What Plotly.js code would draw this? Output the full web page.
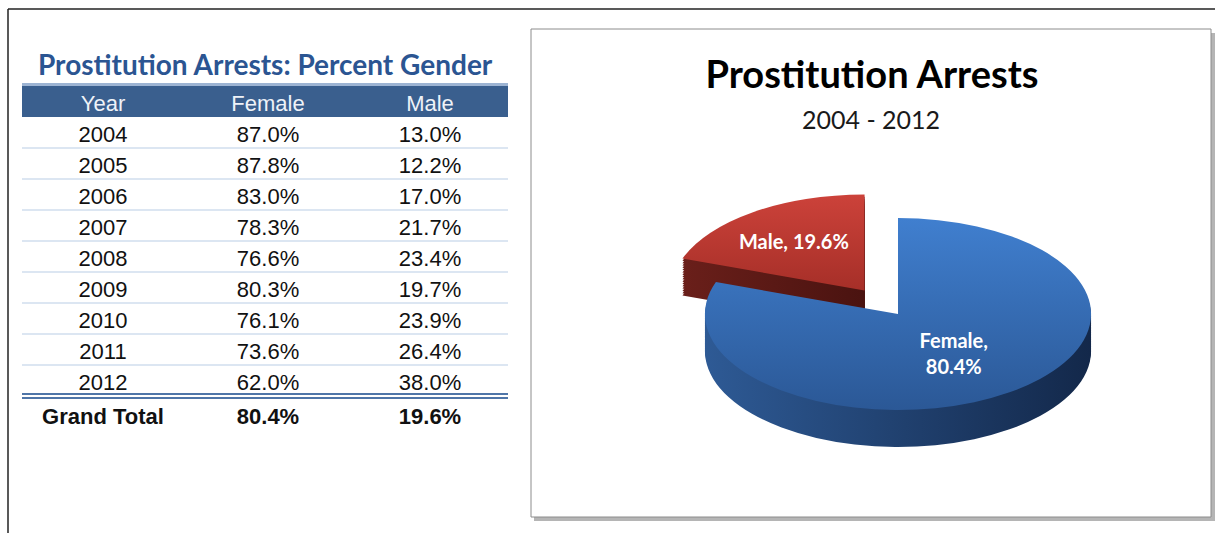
<!DOCTYPE html>
<html><head><meta charset="utf-8">
<script src="https://cdn.plot.ly/plotly-3.0.1.min.js"></script>
<style>html,body{margin:0;padding:0;background:#fff;} #chart{width:1215px;height:533px;}</style>
</head><body><div id="chart"></div>
<script>
// ---- data ----
const years = ['2004','2005','2006','2007','2008','2009','2010','2011','2012'];
const femalePct = [87.0, 87.8, 83.0, 78.3, 76.6, 80.3, 76.1, 73.6, 62.0];
const malePct   = [13.0, 12.2, 17.0, 21.7, 23.4, 19.7, 23.9, 26.4, 38.0];
const totalLabel = 'Grand Total';
const totalFemale = 80.4;
const totalMale = 19.6;
const headerLabels = ['Year', 'Female', 'Male'];
const pieLabels = ['Female', 'Male'];
const pieValues = [80.4, 19.6];

// ---- helpers (layout only) ----
const W = 1215, H = 533;
const px = x => x / W;
const py = y => 1 - y / H;
const fmt = v => v.toFixed(1) + '%';

const colYear = years.concat(['<b>' + totalLabel + '</b>']);
const colF = femalePct.map(fmt).concat(['<b>' + fmt(totalFemale) + '</b>']);
const colM = malePct.map(fmt).concat(['<b>' + fmt(totalMale) + '</b>']);

const rowH = 31, tableTop = 86;
const table = {
  type: 'table',
  domain: {x: [px(22), px(508)], y: [0, py(tableTop)]},
  columnwidth: [162, 168, 156],
  header: {
    values: headerLabels, align: 'center', height: rowH,
    fill: {color: '#3A5F8E'}, line: {color: '#3A5F8E', width: 0},
    font: {family: 'Liberation Sans, Arial', size: 22, color: '#EEF2F8'}
  },
  cells: {
    values: [colYear, colF, colM], align: 'center', height: rowH,
    fill: {color: '#FFFFFF'}, line: {color: '#FFFFFF', width: 0},
    font: {family: 'Liberation Sans, Arial', size: 22, color: '#111111'}
  }
};

const pull = 0.3;
const pieDomain = {x: [px(898 - 251), px(898 + 251)], y: [0, 1]};
const sideTrace = {
  type: 'pie', labels: pieLabels, values: pieValues, sort: false,
  direction: 'clockwise', rotation: 0, pull: [0, pull],
  marker: {colors: ['#1F3D66', '#541714'], line: {width: 0}},
  textinfo: 'none', hoverinfo: 'skip', domain: pieDomain, showlegend: false
};
const topTrace = {
  type: 'pie', labels: pieLabels, values: pieValues, sort: false,
  direction: 'clockwise', rotation: 0, pull: [0, pull],
  marker: {colors: ['#3A70B8', '#BC3A33'], line: {width: 0}},
  texttemplate: ['%{label},<br>%{percent:.1%}', '%{label}, %{percent:.1%}'],
  textposition: 'inside', insidetextorientation: 'horizontal',
  insidetextfont: {family: 'Lato, Open Sans, sans-serif', size: 20, color: '#FFFFFF', weight: 'bold'},
  hoverinfo: 'skip', domain: pieDomain, showlegend: false
};

const sepShapes = [];
for (let i = 1; i < years.length; i++) {
  const y = tableTop + rowH * (i + 1);
  sepShapes.push({type: 'line', xref: 'paper', yref: 'paper', x0: px(22), x1: px(508), y0: py(y), y1: py(y),
    line: {color: '#DCE6F2', width: 2}, layer: 'above'});
}
[394, 398].forEach(y => sepShapes.push({type: 'line', xref: 'paper', yref: 'paper', x0: px(22), x1: px(508), y0: py(y), y1: py(y),
  line: {color: '#4F75A8', width: 2}, layer: 'above'}));
sepShapes.push({type: 'line', xref: 'paper', yref: 'paper', x0: px(22), x1: px(508), y0: py(84.5), y1: py(84.5),
  line: {color: '#9DB4D3', width: 3}, layer: 'above'});

const layout = {
  width: W, height: H, margin: {l: 0, r: 0, t: 0, b: 0},
  paper_bgcolor: '#FFFFFF', showlegend: false,
  title: {text: 'Prostitution Arrests', x: px(872), xanchor: 'center', y: py(75), yanchor: 'middle',
    font: {family: 'Lato, sans-serif', size: 38, color: '#000000', weight: 'bold'}},
  annotations: [
    {text: '2004 - 2012', xref: 'paper', yref: 'paper', x: px(871), y: py(119), showarrow: false,
      xanchor: 'center', yanchor: 'middle', font: {family: 'Lato, sans-serif', size: 25, color: '#1A1A1A'}},
    {text: 'Prostitution Arrests: Percent Gender', xref: 'paper', yref: 'paper', x: px(265), y: py(64), showarrow: false,
      xanchor: 'center', yanchor: 'middle', font: {family: 'Lato, sans-serif', size: 28, color: '#2B5592', weight: 'bold'}}
  ],
  shapes: [
    {type: 'line', xref: 'paper', yref: 'paper', x0: px(8), x1: px(1215), y0: py(9), y1: py(9), line: {color: '#222', width: 1.5}, layer: 'below'},
    {type: 'line', xref: 'paper', yref: 'paper', x0: px(8), x1: px(8), y0: py(9), y1: py(533), line: {color: '#222', width: 1.5}, layer: 'below'},
    {type: 'rect', xref: 'paper', yref: 'paper', x0: px(534), x1: px(1215), y0: py(33), y1: py(521), fillcolor: '#B5B5B5', line: {width: 0}, layer: 'below'},
    {type: 'rect', xref: 'paper', yref: 'paper', x0: px(531), x1: px(1211), y0: py(29), y1: py(517), fillcolor: '#FFFFFF', line: {color: '#8C8C8C', width: 1}, layer: 'below'}
  ].concat(sepShapes)
};

Plotly.newPlot('chart', [table, sideTrace, topTrace], layout, {displayModeBar: false, staticPlot: true}).then(gd => {
  const svg = gd.querySelector('svg.main-svg');
  const svgRect = svg.getBoundingClientRect();
  const cd = gd.calcdata[2][0];
  const cy = cd.cy;
  const s = 0.497, targetCy = 314, depth = 37, N = 16;
  const NS = 'http://www.w3.org/2000/svg';
  const defs = document.createElementNS(NS, 'defs');
  function grad(id, c1, c2, vertical) {
    const g = document.createElementNS(NS, 'linearGradient');
    g.setAttribute('id', id);
    g.setAttribute('x1', '0'); g.setAttribute('y1', '0');
    g.setAttribute('x2', vertical ? '0' : '1'); g.setAttribute('y2', vertical ? '1' : '0');
    [[0, c1], [1, c2]].forEach(([o, c]) => {
      const st = document.createElementNS(NS, 'stop');
      st.setAttribute('offset', o); st.setAttribute('stop-color', c);
      g.appendChild(st);
    });
    defs.appendChild(g);
  }
  grad('gFside', '#2E5A95', '#13284A', false);
  grad('gMside', '#6A1F1A', '#4A1310', false);
  grad('gFtop', '#407FCF', '#2B5896', true);
  grad('gMtop', '#CC423A', '#A62F28', true);
  svg.insertBefore(defs, svg.firstChild);

  const groups = gd.querySelectorAll('.pielayer .trace');
  const side = groups[0], top = groups[1];
  const sidePaths = side.querySelectorAll('path.surface');
  sidePaths[0].style.fill = 'url(#gFside)';
  sidePaths[1].style.fill = 'url(#gMside)';
  const topPaths = top.querySelectorAll('path.surface');
  topPaths[0].style.fill = 'url(#gFtop)';
  topPaths[1].style.fill = 'url(#gMtop)';

  top.querySelectorAll('g.slicetext').forEach(t => {
    const b = t.getBoundingClientRect();
    const tx = b.x + b.width / 2 - svgRect.x, ty = b.y + b.height / 2 - svgRect.y;
    t.setAttribute('transform', `translate(${tx},${ty}) scale(1,${1 / s}) translate(${-tx},${-ty})`);
  });

  const tf = d => `translate(0,${targetCy + d}) scale(1,${s}) translate(0,${-cy})`;
  for (let k = 1; k < N; k++) {
    const c = side.cloneNode(true);
    c.setAttribute('transform', tf(depth * k / N));
    side.parentNode.insertBefore(c, top);
  }
  side.setAttribute('transform', tf(depth));
  top.setAttribute('transform', tf(0));
});
</script>
</body></html>
